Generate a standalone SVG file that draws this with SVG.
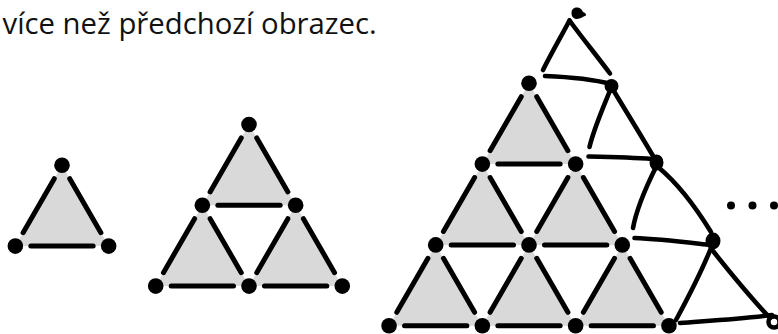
<svg xmlns="http://www.w3.org/2000/svg" xmlns:xlink="http://www.w3.org/1999/xlink" width="778" height="334" viewBox="0 0 778 334">
<style>
.bg{fill:#ffffff}
.gray{fill:#d9d9d9;stroke:none}
.e{stroke:#000;stroke-width:5;stroke-linecap:round;fill:none}
.dot{fill:#000}
.hand{stroke:#000;stroke-width:4.6;stroke-linecap:round;stroke-linejoin:round;fill:none}
.cap{font-family:"Open Sans","Noto Sans","DejaVu Sans",sans-serif;font-size:29.3px;fill:#111}
</style>
<defs>
<g id="tri">
<polygon class="gray" points="0,0 -46.65,80.8 46.65,80.8"/>
<line class="e" x1="-7.75" y1="13.4" x2="-38.9" y2="67.4"/>
<line class="e" x1="7.75" y1="13.4" x2="38.9" y2="67.4"/>
<line class="e" x1="-31.15" y1="80.8" x2="31.15" y2="80.8"/>
</g>
</defs>
<rect class="bg" x="0" y="0" width="778" height="334"/>

<g id="caption">
<text class="cap" x="2.5" y="33.5">více než předchozí obrazec.</text>
</g>

<g id="figure-1">
<use xlink:href="#tri" x="62" y="165.3"/>
<g id="f1-dots">
<circle class="dot" cx="62" cy="165.3" r="7.8"/>
<circle class="dot" cx="15.35" cy="246.1" r="7.8"/>
<circle class="dot" cx="108.65" cy="246.1" r="7.8"/>
</g>
</g>

<g id="figure-2">
<use xlink:href="#tri" x="249" y="124.5"/>
<use xlink:href="#tri" x="202.35" y="205.3"/>
<use xlink:href="#tri" x="295.65" y="205.3"/>
<g id="f2-dots">
<circle class="dot" cx="249" cy="124.5" r="7.8"/>
<circle class="dot" cx="202.35" cy="205.3" r="7.8"/>
<circle class="dot" cx="295.65" cy="205.3" r="7.8"/>
<circle class="dot" cx="155.7" cy="286.1" r="7.8"/>
<circle class="dot" cx="249" cy="286.1" r="7.8"/>
<circle class="dot" cx="342.3" cy="286.1" r="7.8"/>
</g>
</g>

<g id="figure-3">
<use xlink:href="#tri" x="529" y="83.3"/>
<use xlink:href="#tri" x="482.35" y="164.1"/>
<use xlink:href="#tri" x="575.65" y="164.1"/>
<use xlink:href="#tri" x="435.7" y="244.9"/>
<use xlink:href="#tri" x="529" y="244.9"/>
<use xlink:href="#tri" x="622.3" y="244.9"/>
<g id="f3-dots">
<circle class="dot" cx="529" cy="83.3" r="7.8"/>
<circle class="dot" cx="482.35" cy="164.1" r="7.8"/>
<circle class="dot" cx="575.65" cy="164.1" r="7.8"/>
<circle class="dot" cx="435.7" cy="244.9" r="7.8"/>
<circle class="dot" cx="529" cy="244.9" r="7.8"/>
<circle class="dot" cx="622.3" cy="244.9" r="7.8"/>
<circle class="dot" cx="389.05" cy="325.7" r="7.8"/>
<circle class="dot" cx="482.35" cy="325.7" r="7.8"/>
<circle class="dot" cx="575.65" cy="325.7" r="7.8"/>
<circle class="dot" cx="668.95" cy="325.7" r="7.8"/>
</g>
</g>

<g id="connectors">
<path class="hand" d="M569.5,20.5 C563,33 552,52 543,70"/>
<path class="hand" d="M569.5,20.5 C583,39 597,56 610,73.5"/>
<path class="hand" d="M545,76 C570,77 592,79 611,84"/>
<path class="hand" d="M611,88 C604,106 594,128 589.5,147"/>
<path class="hand" d="M612,88 C627,113 642,137 656,161"/>
<path class="hand" d="M588.5,156.5 C610,157 632,157.5 652,159"/>
<path class="hand" d="M656.5,166 C648,183 637,206 633,228"/>
<path class="hand" d="M658,167 C675,181 695,206 711,232"/>
<path class="hand" d="M634.5,238 C660,239 688,242.5 711,245"/>
<path class="hand" d="M711,248 C703,268 690,294 676,320"/>
<path class="hand" d="M713,251 C732,275 752,299 770,318"/>
<path class="hand" d="M680,323 C705,321 740,319 772,315"/>
</g>

<g id="hand-nodes">
<g id="hn0"><path class="dot" d="M571.5,13 C571.5,8.5 575,7 578,7.5 C581,8 582.5,10.5 583,12 C584.5,12.5 586.5,13.5 586,15.5 C583,17 580,18.5 577,19 C573.5,19 571.5,16.5 571.5,13 Z"/></g>
<g id="hn1"><ellipse class="dot" cx="611.5" cy="86" rx="7" ry="7"/></g>
<g id="hn2"><ellipse class="dot" cx="656.5" cy="162.5" rx="7" ry="8"/></g>
<g id="hn3"><ellipse class="dot" cx="713" cy="241" rx="7.5" ry="8.5"/></g>
<g id="hn4"><circle cx="774" cy="322" r="5.5" fill="none" stroke="#000" stroke-width="4.5"/></g>
</g>

<g id="ellipsis">
<circle class="dot" cx="731" cy="205.5" r="4"/>
<circle class="dot" cx="752.5" cy="205.5" r="4"/>
<circle class="dot" cx="774" cy="205.5" r="4"/>
</g>
</svg>
